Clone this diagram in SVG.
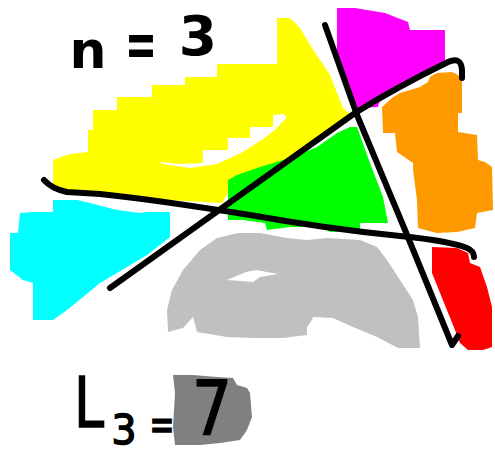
<svg xmlns="http://www.w3.org/2000/svg" width="495" height="452" viewBox="0 0 495 452">
<style>
.ln{fill:none;stroke:#000;stroke-width:6;stroke-linecap:round;stroke-linejoin:round}
.t{font-family:"DejaVu Sans","Liberation Sans",sans-serif;font-weight:bold;fill:#000;text-anchor:middle}
.tn{font-family:"DejaVu Sans","Liberation Sans",sans-serif;fill:#000;stroke:#000;stroke-width:1.5;text-anchor:middle}
</style>
<rect width="495" height="452" fill="#fff"/>
<g id="regions">
<path id="yellow" fill="#ffff00" d="M53,190 L53,160 L70,154 L88,152 L88,130 L93,130 L93,110 L117,110 L117,97 L152,97 L152,85 L185,85 L185,77 L217,77 L217,64 L277,64 L277,18 L290,18 L300,28 L312,48 L330,75 L343,108 L352,116 L300,152 L265,175 L232,186 L222,203 L150,199 L100,194 L60,191 Z"/>
<path id="notch" fill="#fff" d="M160,162 L180,164 L203,163 L203,150 L228,150 L228,138 L250,138 L250,127 L273,127 L273,115 L283,114 L287,117 L276,129 L263,139 L243,152 L217,164 L190,168 L163,164 Z"/>
<path id="green" fill="#00ff00" d="M228,180 L237,175 L260,167 L293,157 L317,147 L337,133 L350,127 L357,127 L370,163 L383,197 L388,223 L360,223 L360,230 L330,232 L323,227 L290,227 L283,228 L267,230 L265,223 L243,220 L228,220 Z"/>
<path id="magenta" fill="#ff00ff" d="M337,8 L355,8 L385,13 L408,22 L410,30 L445,30 L445,60 L420,77 L380,100 L378,107 L357,108 L342,80 L337,60 Z"/>
<path id="orange" fill="#ff9900" d="M430,77 L437,73 L452,72 L458,75 L462,80 L462,113 L458,113 L458,132 L477,135 L478,160 L485,162 L492,167 L493,210 L477,213 L475,228 L457,232 L437,233 L418,228 L417,200 L413,170 L413,163 L397,152 L395,133 L383,133 L382,107 L392,98 L400,93 L420,87 L428,82 Z"/>
<path id="cyan" fill="#00ffff" d="M53,200 L77,200 L90,203 L117,210 L140,213 L147,212 L170,212 L170,237 L147,255 L127,267 L100,283 L83,297 L67,310 L53,320 L33,320 L33,283 L23,280 L10,270 L10,233 L18,233 L20,213 L33,212 L53,212 Z"/>
<path id="gray" fill="#c0c0c0" d="M238,233 L260,233 L287,238 L307,240 L327,238 L360,240 L377,247 L387,260 L400,280 L413,300 L418,317 L420,348 L398,348 L377,337 L353,327 L333,318 L313,317 L312,320 L307,327 L307,335 L283,338 L253,338 L227,337 L197,332 L193,317 L183,328 L168,332 L167,310 L172,290 L183,270 L200,250 L217,238 Z"/>
<path id="hole" fill="#fff" d="M227,280 L246,272 L256,270 L278,274 L260,277 L253,282 L240,281 Z"/>
<path id="red" fill="#ff0000" d="M432,247 L457,248 L468,253 L470,263 L480,267 L487,287 L492,307 L492,347 L483,350 L468,350 L460,343 L455,330 L432,273 Z"/>
<path id="darkgray" fill="#808080" d="M173,375 L193,375 L217,377 L233,378 L237,385 L247,388 L250,393 L252,417 L247,430 L240,440 L220,443 L200,445 L175,445 L173,427 L175,393 Z"/>
</g>
<g id="connectors">
<path class="ln" d="M44,180 Q52,189 67,192 L100,194 C150,199 200,207 250,215 C300,224 350,231 400,236 C430,239 455,243 467,248 Q474,251 474,257"/>
<path class="ln" d="M110,288 L355,113 Q395,88 448,62 Q461,56 462,70 L462,78"/>
<path class="ln" d="M325,25 L357,115 L405,230 L452,345 L458,336"/>
</g>
<g id="labels">
<text class="t" x="88" y="68" font-size="52">n</text>
<text class="t" x="141" y="66" font-size="64" textLength="32" lengthAdjust="spacingAndGlyphs">=</text>
<text class="t" x="198" y="55" font-size="55">3</text>
<text class="tn" x="89" y="427" font-size="70" textLength="30" lengthAdjust="spacingAndGlyphs">L</text>
<text class="tn" x="124" y="444" font-size="40" textLength="25" lengthAdjust="spacingAndGlyphs">3</text>
<text class="tn" x="162" y="440" font-size="44" textLength="25" lengthAdjust="spacingAndGlyphs">=</text>
<text class="tn" x="212" y="434" font-size="74" textLength="40" lengthAdjust="spacingAndGlyphs">7</text>
</g>
</svg>
